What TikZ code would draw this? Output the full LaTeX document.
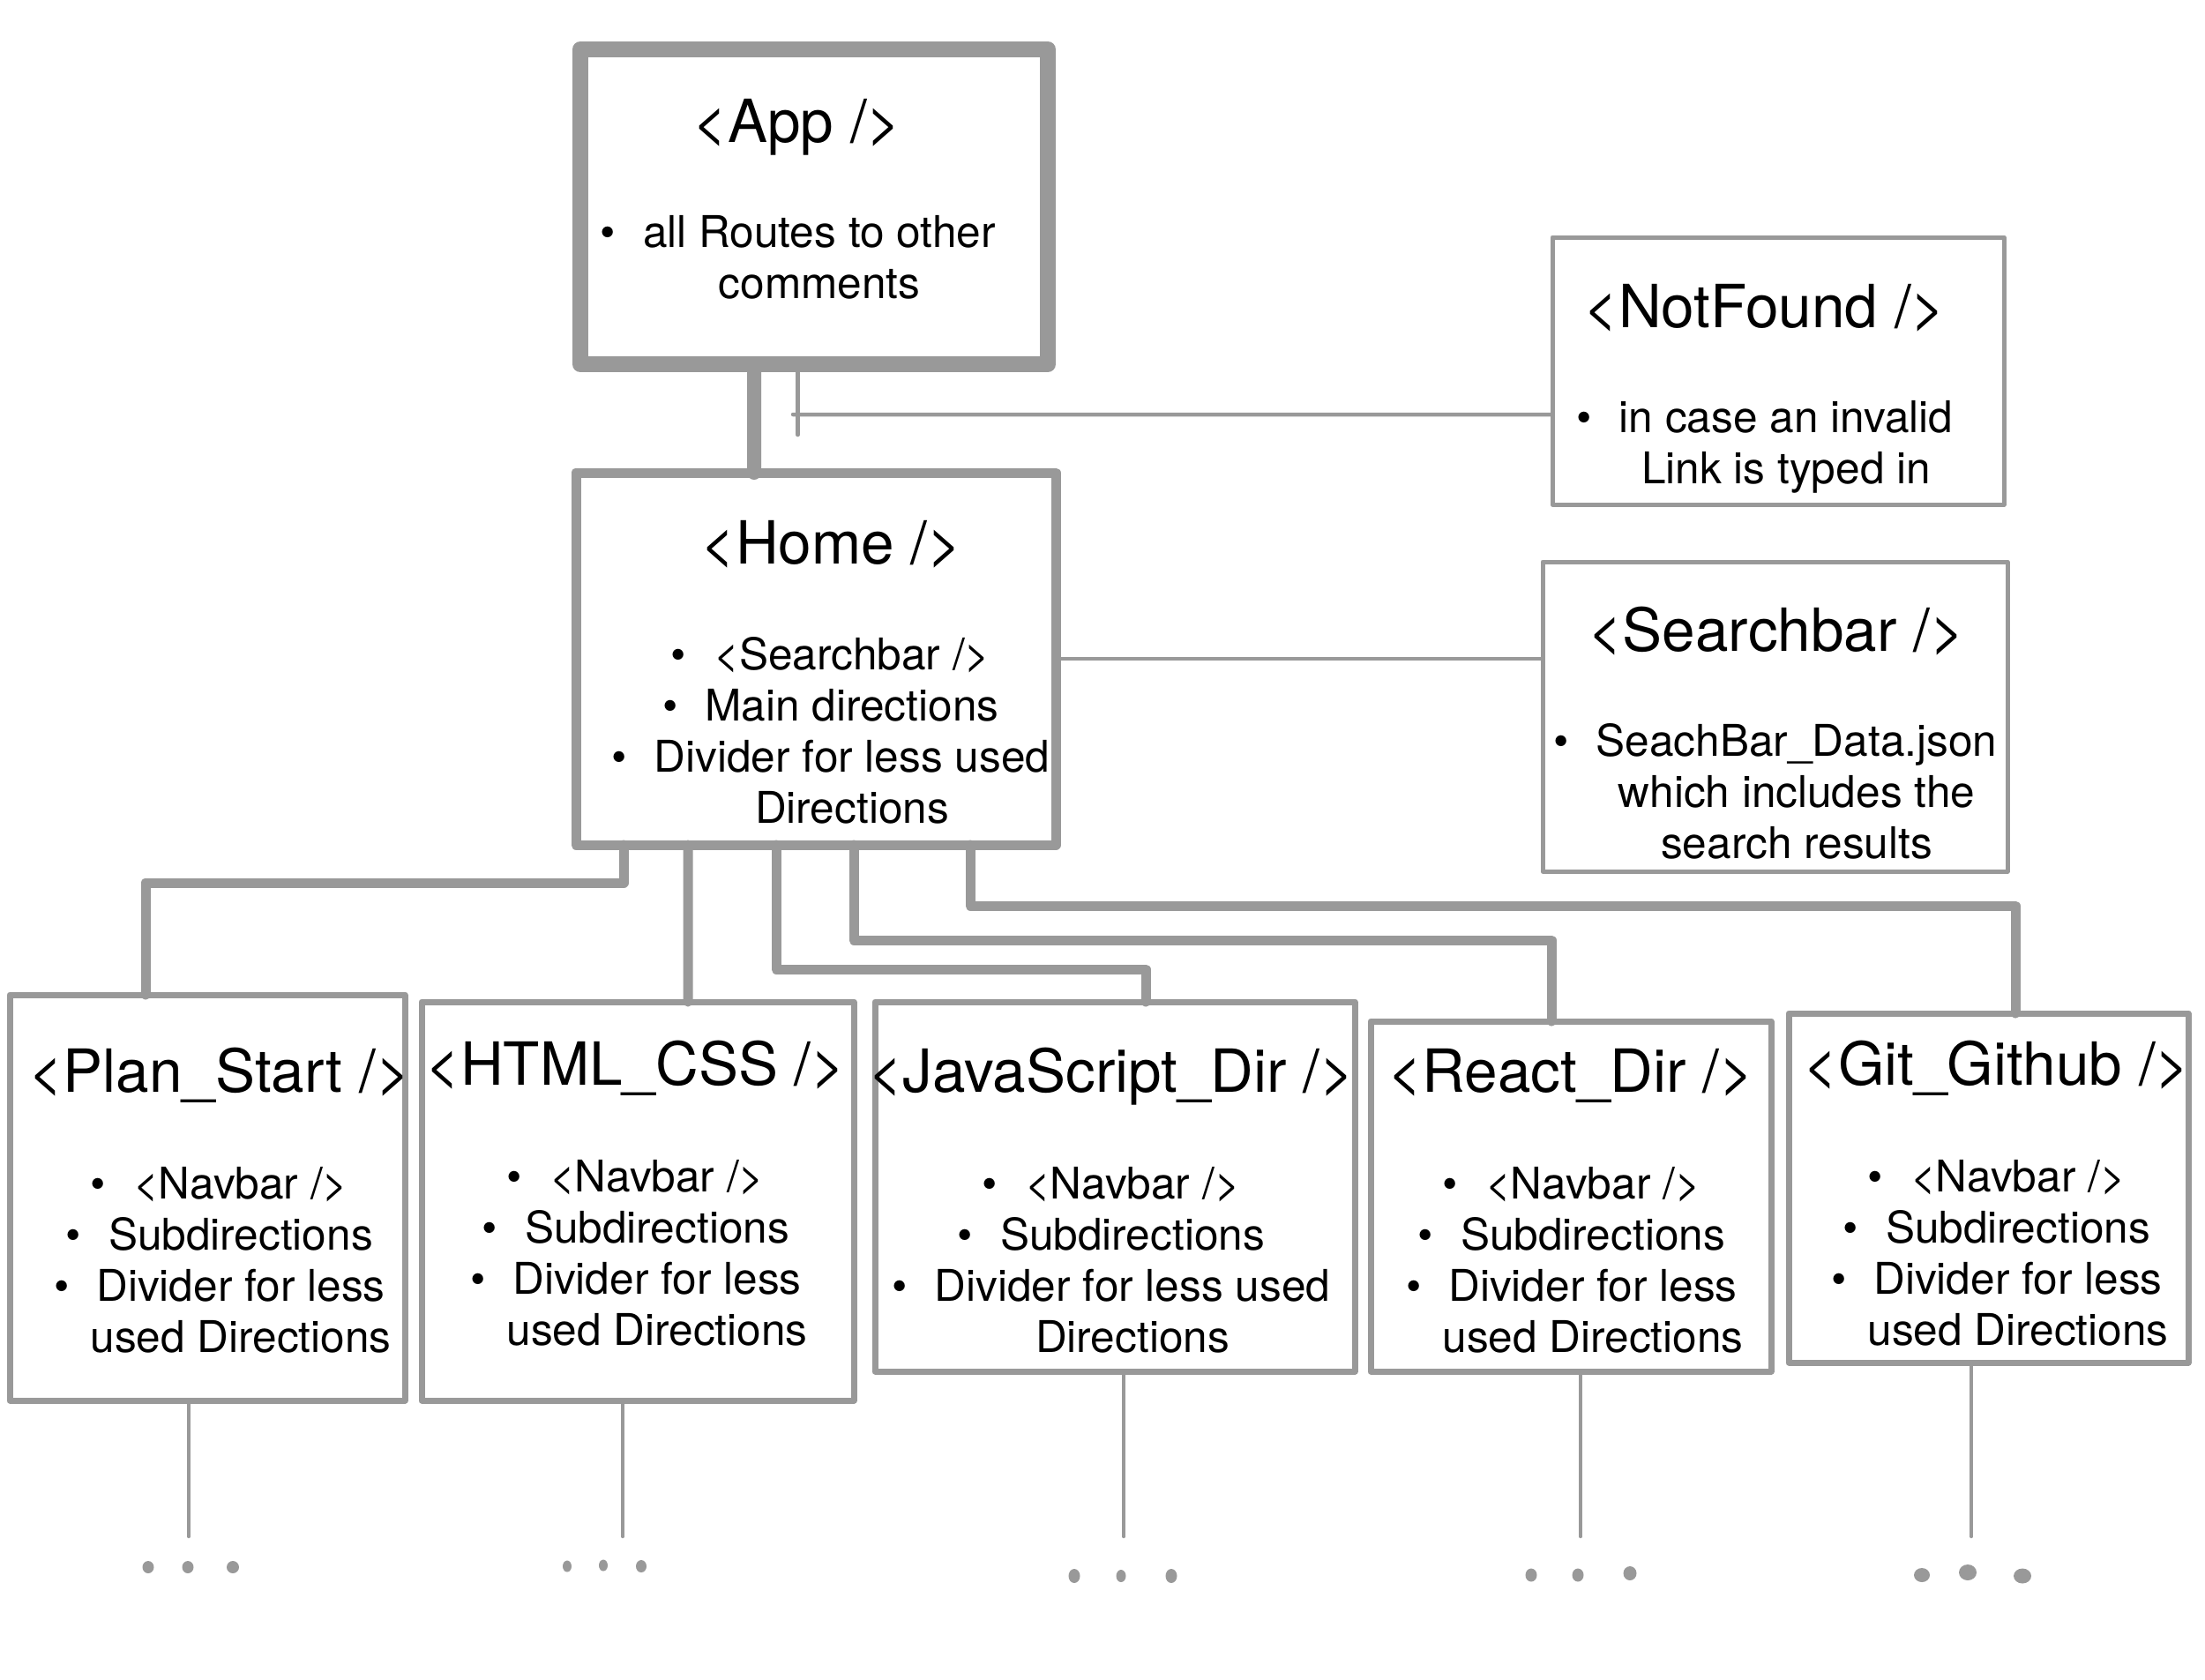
\documentclass[tikz,border=0pt]{standalone}
\usepackage{fontspec}
\setmainfont{TeX Gyre Heros}
\definecolor{linegray}{RGB}{153,153,153}
\newcommand{\bul}{\llap{\textbullet\hspace{0.31cm}}}
\tikzset{
	box/.style={draw=linegray,line join=round,inner sep=0pt,outer sep=0pt},
	trunk/.style={draw=linegray,line width=0.11cm,line cap=round,line join=round},
	twig/.style={draw=linegray,line width=0.045cm,line cap=round},
	title/.style={anchor=base,inner sep=0pt,font=\fontsize{19.2}{22}\selectfont},
	body/.style={anchor=base,inner sep=0pt,align=center,font=\fontsize{14.1}{16.5}\selectfont}
}
\begin{document}
\begin{tikzpicture}
	\useasboundingbox (0,0) rectangle (25,-19.04);
	% boxes
	\node[box,line width=0.18cm,minimum width=5.30cm,minimum height=3.57cm] (app) at (9.23,-2.345) {};
	\node[box,line width=0.11cm,minimum width=5.44cm,minimum height=4.22cm] (home) at (9.25,-7.47) {};
	\node[box,line width=0.05cm,minimum width=5.12cm,minimum height=3.03cm] (notfound) at (20.16,-4.205) {};
	\node[box,line width=0.05cm,minimum width=5.27cm,minimum height=3.51cm] (searchbar) at (20.125,-8.125) {};
	\node[box,line width=0.07cm,minimum width=4.48cm,minimum height=4.60cm] (plan) at (2.35,-13.58) {};
	\node[box,line width=0.07cm,minimum width=4.90cm,minimum height=4.52cm] (html) at (7.23,-13.62) {};
	\node[box,line width=0.07cm,minimum width=5.44cm,minimum height=4.19cm] (js) at (12.64,-13.455) {};
	\node[box,line width=0.07cm,minimum width=4.54cm,minimum height=3.97cm] (react) at (17.81,-13.565) {};
	\node[box,line width=0.07cm,minimum width=4.53cm,minimum height=3.96cm] (git) at (22.545,-13.47) {};
	% texts (body nodes sit on the baseline of their last line)
	\node[title] (apptitle) at (9.04,-1.61) {<App />};
	\node[body] (apptext) at (9.29,-3.38) {\bul all Routes to other\\comments};
	\node[title] (hometitle) at (9.43,-6.39) {<Home />};
	\node[body] (hometext) at (9.66,-9.33) {\bul <Searchbar />\\\bul Main directions\\\bul Divider for less used\\Directions};
	\node[title] (notfoundtitle) at (20.01,-3.71) {<NotFound />};
	\node[body] (notfoundtext) at (20.25,-5.48) {\bul in case an invalid\\Link is typed in};
	\node[title] (searchbartitle) at (20.14,-7.38) {<Searchbar />};
	\node[body] (searchbartext) at (20.37,-9.73) {\bul SeachBar\_Data.json\\which includes the\\search results};
	\node[title] (plantitle) at (2.49,-12.38) {<Plan\_Start />};
	\node[body] (plantext) at (2.73,-15.33) {\bul <Navbar />\\\bul Subdirections\\\bul Divider for less\\used Directions};
	\node[title] (htmltitle) at (7.21,-12.30) {<HTML\_CSS />};
	\node[body] (htmltext) at (7.45,-15.25) {\bul <Navbar />\\\bul Subdirections\\\bul Divider for less\\used Directions};
	\node[title] (jstitle) at (12.60,-12.38) {<JavaScript\_Dir />};
	\node[body] (jstext) at (12.84,-15.33) {\bul <Navbar />\\\bul Subdirections\\\bul Divider for less used\\Directions};
	\node[title] (reacttitle) at (17.81,-12.38) {<React\_Dir />};
	\node[body] (reacttext) at (18.06,-15.33) {\bul <Navbar />\\\bul Subdirections\\\bul Divider for less\\used Directions};
	\node[title] (gittitle) at (22.64,-12.30) {<Git\_Github />};
	\node[body] (gittext) at (22.88,-15.25) {\bul <Navbar />\\\bul Subdirections\\\bul Divider for less\\used Directions};
	% thick connectors
	\draw[trunk,line width=0.16cm] ([xshift=-6.8mm]app.south) -- ([xshift=-7mm]home.north);
	\draw[trunk] ([xshift=-2.18cm]home.south) -- ++(0,-0.43) -| ([xshift=-0.70cm]plan.north);
	\draw[trunk] ([xshift=-1.45cm]home.south) -- ([xshift=0.57cm]html.north);
	\draw[trunk] ([xshift=-0.45cm]home.south) -- ++(0,-1.41) -| ([xshift=0.35cm]js.north);
	\draw[trunk] ([xshift=0.43cm]home.south) -- ++(0,-1.08) -| ([xshift=-0.22cm]react.north);
	\draw[trunk] ([xshift=1.75cm]home.south) -- ++(0,-0.69) -| ([xshift=0.305cm]git.north);
	% thin connectors
	\coordinate (nfend) at (8.99,-4.70);
	\draw[twig] ([yshift=-4.95mm]notfound.west) -- (nfend);
	\draw[twig] (9.045,-4.22) -- (9.045,-4.93);
	\draw[twig] (home.east) -- (home.east -| searchbar.west);
	\draw[twig] ([xshift=-2.1mm]plan.south) -- ++(0,-1.54);
	\draw[twig] ([xshift=-1.7mm]html.south) -- ++(0,-1.54);
	\draw[twig] ([xshift=1mm]js.south) -- ++(0,-1.87);
	\draw[twig] ([xshift=1.1mm]react.south) -- ++(0,-1.87);
	\draw[twig] ([xshift=-1.95mm]git.south) -- ++(0,-1.97);
	% dots
	\fill[linegray] (1.68,-17.77) ellipse (0.065 and 0.07);
	\fill[linegray] (2.13,-17.77) ellipse (0.065 and 0.07);
	\fill[linegray] (2.64,-17.77) ellipse (0.07 and 0.07);
	\fill[linegray] (6.43,-17.76) ellipse (0.05 and 0.065);
	\fill[linegray] (6.84,-17.75) ellipse (0.05 and 0.065);
	\fill[linegray] (7.27,-17.76) ellipse (0.06 and 0.07);
	\fill[linegray] (12.18,-17.87) ellipse (0.065 and 0.08);
	\fill[linegray] (12.71,-17.87) ellipse (0.055 and 0.07);
	\fill[linegray] (13.28,-17.87) ellipse (0.065 and 0.08);
	\fill[linegray] (17.36,-17.86) ellipse (0.065 and 0.075);
	\fill[linegray] (17.89,-17.86) ellipse (0.065 and 0.075);
	\fill[linegray] (18.48,-17.84) ellipse (0.075 and 0.08);
	\fill[linegray] (21.79,-17.86) ellipse (0.09 and 0.08);
	\fill[linegray] (22.31,-17.83) ellipse (0.1 and 0.09);
	\fill[linegray] (22.93,-17.87) ellipse (0.1 and 0.085);
\end{tikzpicture}
\end{document}
